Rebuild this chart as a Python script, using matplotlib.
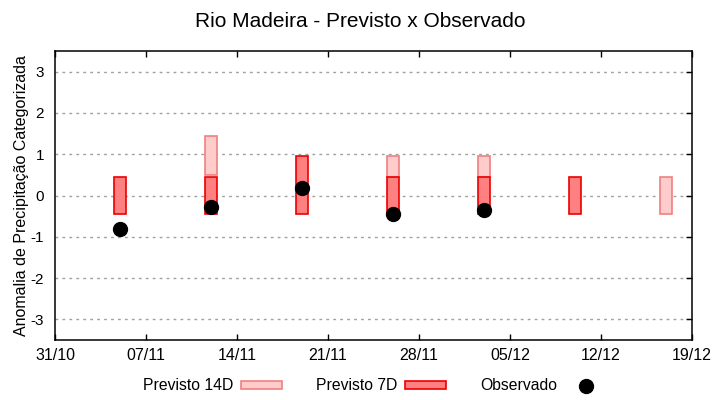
import datetime as dt

import matplotlib
matplotlib.use('Agg')
from matplotlib import pyplot as plt
from matplotlib import dates as mdates
from matplotlib.patches import Patch
from matplotlib.lines import Line2D

# forecast weeks (center dates)
dates_7d = ['2023-11-05', '2023-11-12', '2023-11-19', '2023-11-26', '2023-12-03', '2023-12-10']
low_7d = [-0.44, -0.44, -0.44, -0.44, -0.44, -0.44]
high_7d = [0.44, 0.44, 0.96, 0.44, 0.44, 0.44]

dates_14d = ['2023-11-12', '2023-11-26', '2023-12-03', '2023-12-17']
low_14d = [0.50, 0.44, 0.44, -0.44]
high_14d = [1.44, 0.96, 0.96, 0.44]

dates_obs = ['2023-11-05', '2023-11-12', '2023-11-19', '2023-11-26', '2023-12-03']
obs = [-0.80, -0.29, 0.17, -0.46, -0.36]

tick_dates = ['2023-10-31', '2023-11-07', '2023-11-14', '2023-11-21',
              '2023-11-28', '2023-12-05', '2023-12-12', '2023-12-19']

C14_FACE, C14_EDGE = '#ffcccc', '#f08080'
C7_FACE, C7_EDGE = '#ff8080', '#ee0000'


def todate(s):
    return dt.datetime.strptime(s, '%Y-%m-%d')


plt.rcParams['font.family'] = ['Liberation Sans', 'DejaVu Sans']
plt.rcParams['axes.unicode_minus'] = False

fig = plt.figure(figsize=(7.2, 4), dpi=100)
ax = fig.add_axes([0.0764, 0.15, 0.8847, 0.7225])

width = 0.95  # days
for d, lo, hi in zip(dates_14d, low_14d, high_14d):
    ax.bar(todate(d), hi - lo, bottom=lo, width=width, color=C14_FACE,
           edgecolor=C14_EDGE, linewidth=1.2, zorder=3)
for d, lo, hi in zip(dates_7d, low_7d, high_7d):
    ax.bar(todate(d), hi - lo, bottom=lo, width=width, color=C7_FACE,
           edgecolor=C7_EDGE, linewidth=1.2, zorder=4)
ax.plot([todate(d) for d in dates_obs], obs, 'o', color='black',
        markersize=10, linestyle='none', zorder=5)

ax.set_xlim(todate(tick_dates[0]), todate(tick_dates[-1]))
ax.set_ylim(-3.5, 3.5)
ax.set_xticks([todate(d) for d in tick_dates])
ax.xaxis.set_major_formatter(mdates.DateFormatter('%d/%m'))
ax.set_yticks(range(-3, 4))

ax.grid(axis='y', color='#a0a0a0', linestyle=(0, (2, 3)), linewidth=1, zorder=1)
ax.tick_params(axis='x', direction='in', top=True, length=4, width=1, pad=6)
ax.tick_params(axis='y', direction='in', left=False, right=True, length=4,
               width=1, pad=8, labelsize=11)
for lab in ax.get_xticklabels():
    lab.set_family(['Liberation Sans Narrow', 'Liberation Sans', 'DejaVu Sans'])
    lab.set_fontsize(11.5)
for sp in ax.spines.values():
    sp.set_linewidth(1.1)

ax.set_ylabel('Anomalia de Precipitação Categorizada', fontsize=11.5, labelpad=1)
fig.suptitle('Rio Madeira - Previsto x Observado', fontsize=15, y=0.97)

handles = [
    Patch(facecolor=C14_FACE, edgecolor=C14_EDGE, linewidth=1.2, label='Previsto 14D'),
    Patch(facecolor=C7_FACE, edgecolor=C7_EDGE, linewidth=1.2, label='Previsto 7D'),
    Line2D([], [], marker='o', color='black', linestyle='none', markersize=10,
           label='Observado'),
]
fig.legend(handles=handles, loc='center', bbox_to_anchor=(0.52, 0.035), ncol=3,
           frameon=False, markerfirst=False, fontsize=11.3, handlelength=2.6,
           handleheight=0.45, handletextpad=0.5, columnspacing=2.2)

fig.savefig('out.png', dpi=100)
